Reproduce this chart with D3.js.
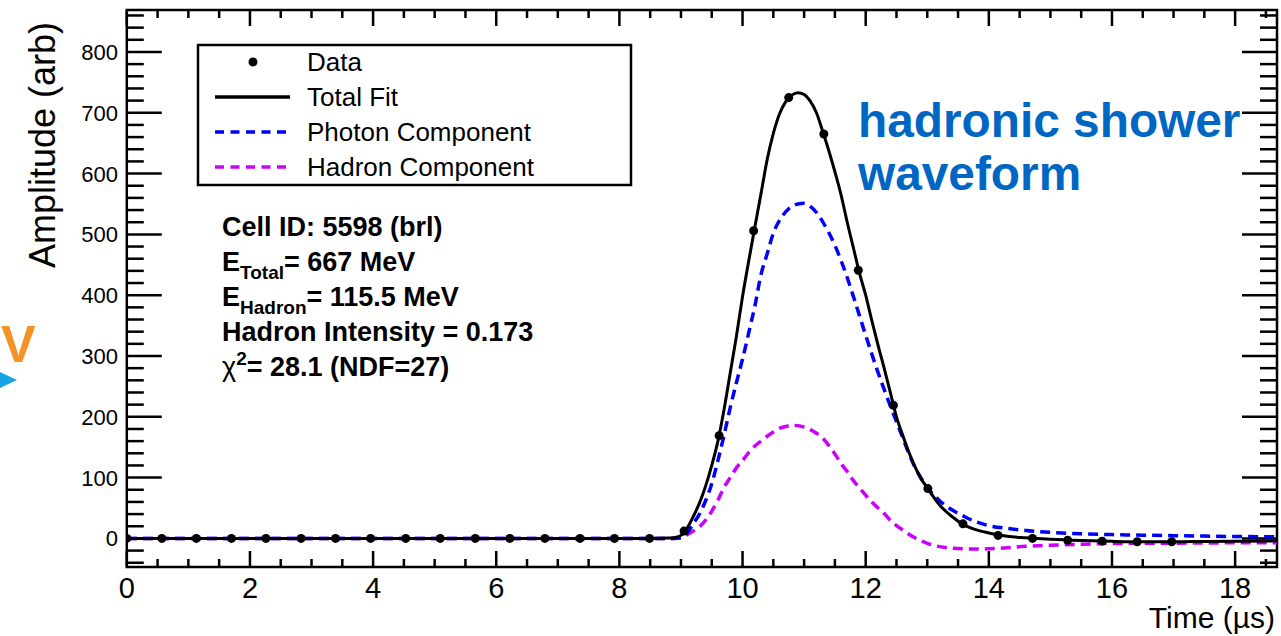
<!DOCTYPE html>
<html><head><meta charset="utf-8">
<script src="https://cdn.jsdelivr.net/npm/d3@7"></script>
<style>
body{margin:0;background:#fff}
svg{display:block}
text{font-family:"Liberation Sans",Arial,Helvetica,sans-serif}
</style>
</head><body>
<svg id="c" width="1281" height="636"></svg>
<script>
// ---- data ----
const sampleTime=[0,0.57,1.13,1.70,2.26,2.83,3.39,3.96,4.53,5.09,5.66,6.22,6.79,7.36,7.92,8.49,9.05,9.62,10.18,10.75,11.32,11.88,12.45,13.01,13.58,14.15,14.71,15.28,15.84,16.41,16.97];
const sampleAmp=[0,0,0,0,0,0,0,0,0,0,0,0,0,0,0,0,12,169,506,725,665,441,219,82,24,5,0,-3,-4.5,-5.5,-5.5];

const fitTime=[0,8.5,8.8,8.9,9.0,9.1,9.2,9.3,9.4,9.5,9.6,9.7,9.8,9.9,10.0,10.1,10.2,10.3,10.4,10.5,10.6,10.7,10.8,10.9,11.0,11.1,11.2,11.3,11.4,11.5,11.6,11.7,11.8,11.9,12.0,12.1,12.2,12.3,12.4,12.5,12.6,12.7,12.8,12.9,13.0,13.2,13.4,13.6,13.8,14.0,14.3,14.6,15.0,15.5,16.0,16.5,17.0,17.5,18.0,18.7];
const totalFit=[0,0,0.5,1.5,5,17,36,58,86,120,160,212,272,332,398,456,512,567,623,666,698,718,729,733,730,719,700,670,638,603,565,520,478,436,400,358,318,280,240,200,170,142,118,98,83,55,36,22,14,9,3.5,1,-1.5,-3.5,-4.8,-5.5,-5.5,-5,-4.5,-4];
const photonFit=[0,0,0,0,1,9,24,40,62,90,128,170,215,256,295,338,382,434,468,502,523,537,546,550,551,546,536,521,503,482,457,429,398,366,334,303,273,245,218,192,166,140,117,99,84,62,47,36,27,21,16.5,13,10,7.5,6.3,5.3,4.5,3.8,3.2,2.6];
const hadronFit=[0,0,0,0.3,1.5,6,12,19,30,45,63,84,100,116,128,141,152,160,168,175,181,184,186,185.5,183,179,173,165,153,139,123,110,95,83,71,60,50,41,30,21,14,7,1,-4,-8,-13.5,-16,-17.2,-17.6,-17,-15.3,-13,-11.3,-9.6,-8.4,-8,-7.8,-7.5,-7.2,-7];

const xTickLabels=[0,2,4,6,8,10,12,14,16,18];
const yTickLabels=[0,100,200,300,400,500,600,700,800];
const legendLabels=["Data","Total Fit","Photon Component","Hadron Component"];
const xTitle="Time (\u00b5s)";
const yTitle="Amplitude (arb)";

// ---- layout ----
const svg=d3.select("#c");
const L=126.8,R=1277,T=10,B=567;
const x=d3.scaleLinear().domain([0,18.68]).range([L,R]);
const y=d3.scaleLinear().domain([-47,869]).range([B,T]);

// fragments on left edge
svg.append("text").attr("x",1).attr("y",362).attr("font-size",52).attr("font-weight","bold").attr("fill","#f39325").text("V");
svg.append("path").attr("d","M0,372L17,380L0,388Z").attr("fill","#1aa3e0");

// clip
svg.append("clipPath").attr("id","pa").append("rect").attr("x",L).attr("y",T).attr("width",R-L).attr("height",B-T);

// ticks
const tk=svg.append("g").attr("stroke","#000").attr("stroke-width",2.5);
const xMinor=d3.range(0,18.7,0.5);
const yMinor=d3.range(-40,869,20);
xMinor.forEach(v=>{
  const major=xTickLabels.includes(v);
  const len=major?16:8;
  tk.append("line").attr("x1",x(v)).attr("x2",x(v)).attr("y1",B).attr("y2",B-len);
  tk.append("line").attr("x1",x(v)).attr("x2",x(v)).attr("y1",T).attr("y2",T+len);
});
yMinor.forEach(v=>{
  const major=yTickLabels.includes(v);
  const len=major?35:17;
  tk.append("line").attr("x1",L).attr("x2",L+len).attr("y1",y(v)).attr("y2",y(v));
  tk.append("line").attr("x1",R).attr("x2",R-len).attr("y1",y(v)).attr("y2",y(v));
});

// frame
svg.append("rect").attr("x",L).attr("y",T).attr("width",R-L).attr("height",B-T).attr("fill","none").attr("stroke","#000").attr("stroke-width",2.5);

// tick labels
svg.append("g").selectAll("text").data(xTickLabels).join("text")
  .attr("x",d=>x(d)).attr("y",598).attr("text-anchor","middle").attr("font-size",29).text(d=>d);
svg.append("g").selectAll("text").data(yTickLabels).join("text")
  .attr("x",118).attr("y",d=>y(d)+8).attr("text-anchor","end").attr("font-size",22).text(d=>d);

// titles
svg.append("text").attr("x",1275).attr("y",628).attr("text-anchor","end").attr("font-size",30).text(xTitle);
svg.append("text").attr("transform","translate(55,22) rotate(-90)").attr("text-anchor","end").attr("font-size",36).text(yTitle);

// curves
const fitRows=fitTime.map((t,i)=>({t,tot:totalFit[i],ph:photonFit[i],ha:hadronFit[i]}));
const mk=k=>d3.line().x(d=>x(d.t)).y(d=>y(d[k])).curve(d3.curveMonotoneX);
const cg=svg.append("g").attr("clip-path","url(#pa)");
cg.append("path").datum(fitRows).attr("d",mk("ha")).attr("fill","none").attr("stroke","#cc00ff").attr("stroke-width",3.5).attr("stroke-dasharray","10,6");
cg.append("path").datum(fitRows).attr("d",mk("ph")).attr("fill","none").attr("stroke","#0000ff").attr("stroke-width",3.5).attr("stroke-dasharray","10,6");
cg.append("path").datum(fitRows).attr("d",mk("tot")).attr("fill","none").attr("stroke","#000").attr("stroke-width",3);
cg.selectAll("circle").data(sampleTime).join("circle")
  .attr("cx",d=>x(d)).attr("cy",(d,i)=>y(sampleAmp[i])).attr("r",4.5).attr("fill","#000");

// legend
const lg=svg.append("g");
lg.append("rect").attr("x",198).attr("y",45).attr("width",433).attr("height",140).attr("fill","#fff").attr("stroke","#000").attr("stroke-width",2.5);
const ly=[62,97,132,167];
lg.append("circle").attr("cx",253).attr("cy",ly[0]).attr("r",4.5).attr("fill","#000");
lg.append("line").attr("x1",215).attr("x2",290).attr("y1",ly[1]).attr("y2",ly[1]).attr("stroke","#000").attr("stroke-width",3.5);
lg.append("line").attr("x1",215).attr("x2",290).attr("y1",ly[2]).attr("y2",ly[2]).attr("stroke","#0000ff").attr("stroke-width",3.5).attr("stroke-dasharray","9,6.5");
lg.append("line").attr("x1",215).attr("x2",290).attr("y1",ly[3]).attr("y2",ly[3]).attr("stroke","#cc00ff").attr("stroke-width",3.5).attr("stroke-dasharray","9,6.5");
lg.selectAll("text").data(legendLabels).join("text").attr("x",307).attr("y",(d,i)=>ly[i]+9).attr("font-size",26).text(d=>d);

// info text
const it=svg.append("g").attr("font-weight","bold").attr("font-size",27);
const by=[236,271,306,341,376];
it.append("text").attr("x",222).attr("y",by[0]).text("Cell ID: 5598 (brl)");
let t2=it.append("text").attr("x",222).attr("y",by[1]);
t2.append("tspan").text("E");
t2.append("tspan").attr("font-size",19).attr("dy",8).text("Total");
t2.append("tspan").attr("dy",-8).text("= 667 MeV");
let t3=it.append("text").attr("x",222).attr("y",by[2]);
t3.append("tspan").text("E");
t3.append("tspan").attr("font-size",19).attr("dy",8).text("Hadron");
t3.append("tspan").attr("dy",-8).text("= 115.5 MeV");
it.append("text").attr("x",222).attr("y",by[3]).text("Hadron Intensity = 0.173");
let t5=it.append("text").attr("x",222).attr("y",by[4]);
t5.append("tspan").attr("font-weight","normal").text("\u03c7");
t5.append("tspan").attr("font-size",19).attr("dy",-11).text("2");
t5.append("tspan").attr("dy",11).text("= 28.1 (NDF=27)");

// blue annotation
const an=svg.append("g").attr("font-weight","bold").attr("font-size",47.8).attr("fill","#0066c4");
an.append("text").attr("x",858).attr("y",137).text("hadronic shower");
an.append("text").attr("x",858).attr("y",190).text("waveform");
</script>
</body></html>
